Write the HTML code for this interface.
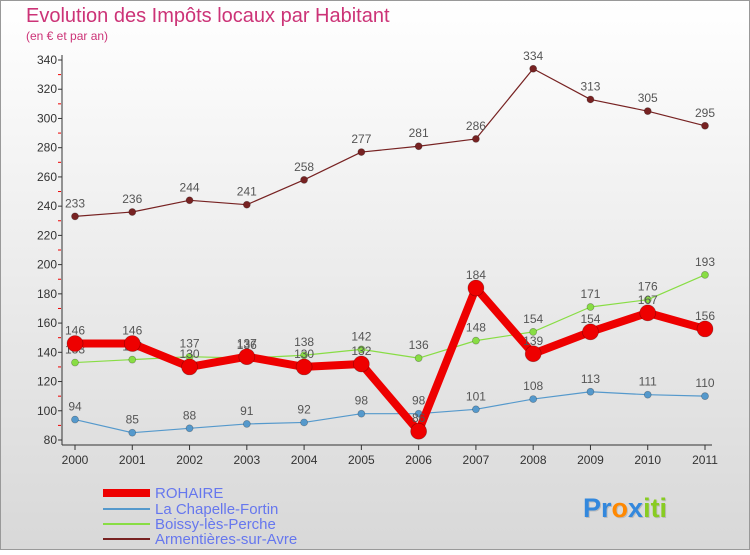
<!DOCTYPE html>
<html><head><meta charset="utf-8"><style>
body{margin:0;width:750px;height:550px;overflow:hidden;font-family:"Liberation Sans",sans-serif}
</style></head><body>
<svg id="chart" width="750" height="550" xmlns="http://www.w3.org/2000/svg" font-family="Liberation Sans, sans-serif">
<defs><linearGradient id="bg" x1="0" y1="0" x2="0" y2="1"><stop offset="0" stop-color="#ffffff"/><stop offset="1" stop-color="#d8d8d8"/></linearGradient></defs>
<rect x="0.5" y="0.5" width="749" height="549" fill="url(#bg)" stroke="#999"/>
<text x="26" y="22" font-size="20" fill="#cc3377">Evolution des Impôts locaux par Habitant</text>
<text x="26" y="40" font-size="12" fill="#cc3377">(en € et par an)</text>
<g id="axes"></g>
<g id="series"></g>
<g font-size="15" fill="#6677ee">
<line x1="103" y1="493" x2="150" y2="493" stroke="#ee0000" stroke-width="8"/><text x="155" y="498">ROHAIRE</text>
<line x1="103" y1="509" x2="150" y2="509" stroke="#5599cc" stroke-width="2"/><text x="155" y="514">La Chapelle-Fortin</text>
<line x1="103" y1="524" x2="150" y2="524" stroke="#88dd44" stroke-width="2"/><text x="155" y="529">Boissy-lès-Perche</text>
<line x1="103" y1="539" x2="150" y2="539" stroke="#772222" stroke-width="2"/><text x="155" y="544">Armentières-sur-Avre</text>
</g>
<text x="584" y="518" font-size="27" font-weight="bold" fill="#bbb">Proxiti</text>
<text x="583" y="517" font-size="27" font-weight="bold"><tspan fill="#3388dd">Pr</tspan><tspan fill="#ff8800">o</tspan><tspan fill="#3388dd">x</tspan><tspan fill="#88cc22">iti</tspan></text>
</svg>
<script>
const years=[2000,2001,2002,2003,2004,2005,2006,2007,2008,2009,2010,2011];
const rohaire=[146,146,130,137,130,132,86,184,139,154,167,156];
const chapelle=[94,85,88,91,92,98,98,101,108,113,111,110];
const boissy=[133,135,137,136,138,142,136,148,154,171,176,193];
const armentieres=[233,236,244,241,258,277,281,286,334,313,305,295];
const yTicks=[80,100,120,140,160,180,200,220,240,260,280,300,320,340];
const NS="http://www.w3.org/2000/svg";
const x=i=>75+i*(630/11);
const y=v=>440-(v-80)*(380/260);
function mk(tag,attrs,parent){const e=document.createElementNS(NS,tag);for(const k in attrs)e.setAttribute(k,attrs[k]);parent.appendChild(e);return e;}
const ax=document.getElementById('axes');
const a1=mk('line',{x1:62,y1:55,x2:62,y2:445,stroke:'#333'},ax);


const a2=mk('line',{x1:62,y1:445,x2:712,y2:445,stroke:'#333'},ax);


yTicks.forEach(t=>{
 const tl=mk('text',{x:57,y:y(t)+4,'font-size':12,'text-anchor':'end',fill:'#333'},ax);tl.textContent=t;
 
 
 mk('line',{x1:58,y1:y(t),x2:62,y2:y(t),stroke:'#333'},ax);
 if(t<340)mk('line',{x1:58,y1:y(t+10),x2:61,y2:y(t+10),stroke:'#e00'},ax);
});
years.forEach((yr,i)=>{
 mk('line',{x1:x(i),y1:445,x2:x(i),y2:450,stroke:'#333'},ax);
 const tl=mk('text',{x:x(i),y:464,'font-size':12,'text-anchor':'middle',fill:'#333'},ax);tl.textContent=yr;
 
 
});
const sg=document.getElementById('series');
function series(name,vals,color,w,r,labels){
 const g=mk('g',{},sg);
 
 
 mk('polyline',{points:vals.map((v,i)=>x(i)+','+y(v)).join(' '),fill:'none',stroke:color,'stroke-width':w,'stroke-linejoin':'round'},g);
 vals.forEach((v,i)=>{
  const c=mk('circle',{cx:x(i),cy:y(v),r:r,fill:color,stroke:'rgba(0,0,0,0.3)','stroke-width':0.7},g);
  
  
  if(labels){const t=mk('text',{x:x(i),y:y(v)-9,'font-size':12,'text-anchor':'middle',fill:'#555'},g);t.textContent=v;}
 });
}
series('armentieres-series',armentieres,'#772222',1.2,3.5,true);
series('boissy-series',boissy,'#88dd44',1.2,3.5,true);
series('chapelle-series',chapelle,'#5599cc',1.2,3.5,true);
series('rohaire-series',rohaire,'#ee0000',8,8,true);
</script>
</body></html>
